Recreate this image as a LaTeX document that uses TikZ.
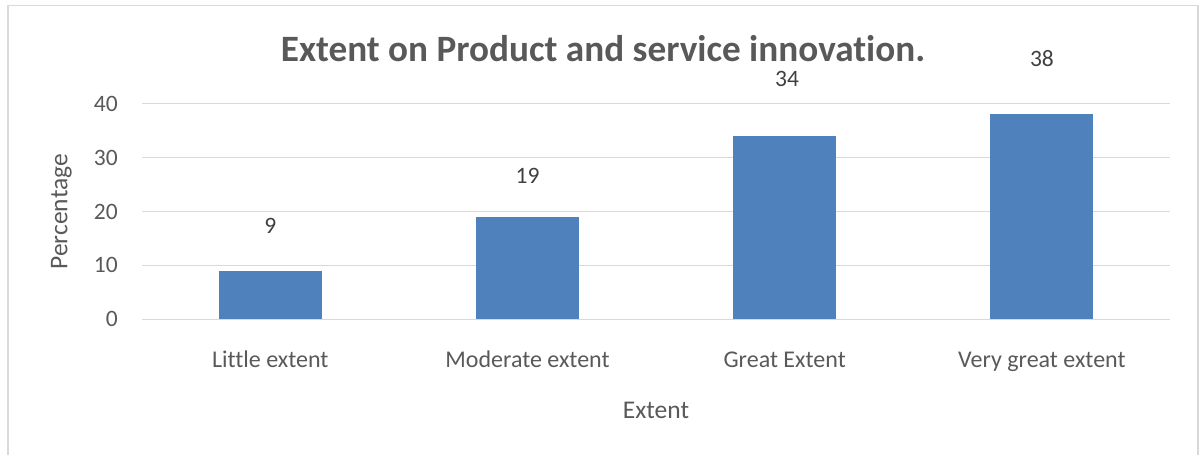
\documentclass[tikz,border=0pt]{standalone}
\usepackage{fontspec}
\setmainfont{Carlito}[Ligatures=NoCommon]
\usetikzlibrary{positioning}
\definecolor{barblue}{HTML}{4F81BD}
\definecolor{textgray}{HTML}{595959}
\definecolor{valuegray}{HTML}{404040}
\definecolor{linegray}{HTML}{D9D9D9}
\tikzset{
        % Chart frame and grid
        chart_frame/.style={draw=linegray, line width=1.3pt},
        grid_line/.style={draw=linegray, line width=1.4pt},
        % Bars
        bar/.style={fill=barblue, inner sep=0pt, minimum width=103pt, anchor=south},
        % Texts
        chart_title/.style={text=textgray, font=\fontsize{37.2}{42}\selectfont\bfseries, anchor=base, inner sep=0pt},
        axis_title/.style={text=textgray, font=\fontsize{25.5}{30}\selectfont, inner sep=0pt},
        tick_label/.style={text=textgray, font=\fontsize{23.5}{27}\selectfont, anchor=east, inner sep=0pt},
        cat_label/.style={text=textgray, font=\fontsize{24}{28}\selectfont, anchor=base, inner sep=0pt},
        value_label/.style={text=valuegray, font=\fontsize{23.5}{27}\selectfont, inner sep=0pt}
}
\begin{document}
\begin{tikzpicture}[x=1pt, y=-1pt]
    \useasboundingbox (0,0) rectangle (1200,455);
    % frame
    \draw[chart_frame] (8,460) -- (8,5.7) -- (1198,5.7) -- (1198,460);
    % grid lines and tick labels
    \foreach \v/\yy in {0/319.3, 10/265.4, 20/211.5, 30/157.6, 40/103.7} {
        \draw[grid_line] (142,\yy) -- (1170,\yy);
        \node[tick_label] (tick\v) at (118,\yy) {\v};
    }
    % bars
    \node[bar, minimum height=48.5pt] (little) at (270.3,319.3) {};
    \node[bar, minimum height=102.4pt] (moderate) at (527.5,319.3) {};
    \node[bar, minimum height=183.3pt] (great) at (784.7,319.3) {};
    \node[bar, minimum height=204.8pt] (verygreat) at (1041.9,319.3) {};
    % value labels
    \node[value_label] (v_little) at (270.3,226) {9};
    \node[value_label] (v_moderate) at (527.5,175.5) {19};
    \node[value_label] (v_great) at (787,78.5) {34};
    \node[value_label] (v_verygreat) at (1041.9,59) {38};
    % category labels
    \node[cat_label] (c_little) at (270.3,367.3) {Little extent};
    \node[cat_label] (c_moderate) at (527.5,367.3) {Moderate extent};
    \node[cat_label] (c_great) at (784.7,367.3) {Great Extent};
    \node[cat_label] (c_verygreat) at (1041.9,367.3) {Very great extent};
    % titles
    \node[chart_title] (title) at (603,61.7) {Extent on Product and service innovation.};
    \node[axis_title] (xtitle) at (656,410) {Extent};
    \node[axis_title, rotate=90] (ytitle) at (61.5,211.7) {Percentage};
\end{tikzpicture}
\end{document}
